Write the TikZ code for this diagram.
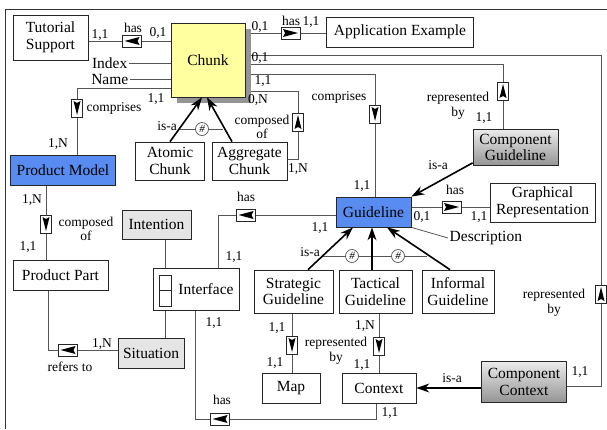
\documentclass[tikz,border=0pt]{standalone}
\usepackage{fontspec}
\setmainfont{Liberation Serif}
\usetikzlibrary{arrows.meta, positioning, calc, shadows, backgrounds}

\definecolor{chunkyellow}{RGB}{255,255,160}
\definecolor{modelblue}{RGB}{88,140,240}
\definecolor{linegray}{RGB}{85,85,85}

\tikzset{
  entbox/.style = {
    rectangle, draw=black!85, line width=0.7pt, fill=white,
    inner sep=0pt, align=center, font=\rmfamily\fontsize{15.5}{16.5}\selectfont
  },
  keybox/.style = {entbox, fill=modelblue},
  softbox/.style = {entbox, fill=black!10},
  compbox/.style = {entbox, top color=black!8, bottom color=black!42},
  chunkshadow/.style = {
    drop shadow={shadow xshift=6pt, shadow yshift=-6pt, fill=black!42, opacity=1}
  },
  portbox/.style = {
    rectangle, draw=black!85, line width=0.7pt, fill=white, inner sep=0pt,
    minimum width=12pt, minimum height=31pt,
    path picture={\draw[black!85, line width=0.7pt] (path picture bounding box.west) -- (path picture bounding box.east);}
  },
  lbl/.style = {font=\rmfamily\fontsize{13.5}{14.5}\selectfont, inner sep=0pt, align=center},
  namelbl/.style = {font=\rmfamily\fontsize{15.5}{16.5}\selectfont, inner sep=1.5pt},
  conn/.style = {draw=linegray, line width=0.8pt},
  isa/.style = {-{Stealth[length=13pt,width=9pt]}, line width=1.6pt, black},
  hashc/.style = {
    circle, draw=linegray, fill=white, line width=0.7pt, minimum size=13pt,
    inner sep=0pt, font=\rmfamily\itshape\fontsize{11}{11}\selectfont
  },
  % relationship markers: small box with a direction triangle
  relbox/.style = {rectangle, draw=black!85, fill=white, inner sep=0pt, line width=0.6pt},
  relL/.style = {relbox, minimum width=19pt, minimum height=12pt,
    path picture={\fill[black] ([xshift=2pt]path picture bounding box.west)
      -- ([xshift=-2pt,yshift=4pt]path picture bounding box.east)
      -- ([xshift=-4pt]path picture bounding box.east)
      -- ([xshift=-2pt,yshift=-4pt]path picture bounding box.east) -- cycle;}},
  relR/.style = {relbox, minimum width=19pt, minimum height=12pt,
    path picture={\fill[black] ([xshift=-2pt]path picture bounding box.east)
      -- ([xshift=2pt,yshift=4pt]path picture bounding box.west)
      -- ([xshift=4pt]path picture bounding box.west)
      -- ([xshift=2pt,yshift=-4pt]path picture bounding box.west) -- cycle;}},
  relU/.style = {relbox, minimum width=11pt, minimum height=18pt,
    path picture={\fill[black] ([yshift=-2pt]path picture bounding box.north)
      -- ([xshift=-3.5pt,yshift=2pt]path picture bounding box.south)
      -- ([yshift=4pt]path picture bounding box.south)
      -- ([xshift=3.5pt,yshift=2pt]path picture bounding box.south) -- cycle;}},
  relD/.style = {relbox, minimum width=11pt, minimum height=18pt,
    path picture={\fill[black] ([yshift=2pt]path picture bounding box.south)
      -- ([xshift=-3.5pt,yshift=-2pt]path picture bounding box.north)
      -- ([yshift=-4pt]path picture bounding box.north)
      -- ([xshift=3.5pt,yshift=-2pt]path picture bounding box.north) -- cycle;}}
}

\begin{document}
\begin{tikzpicture}[x=1pt, y=-1pt]
  \useasboundingbox (0,0) rectangle (607,429);
  \draw[line width=0.8pt, black!80] (5,429) -- (5,9) -- (607,9);

  % Entities
  \node[entbox, minimum width=75pt, minimum height=45pt] (tutorial) at (50.5,37.5) {Tutorial\\Support};
  \node[entbox, fill=chunkyellow, minimum width=74pt, minimum height=74pt, chunkshadow] (chunk) at (208,60) {Chunk};
  \node[entbox, minimum width=147pt, minimum height=30pt] (appex) at (400,32) {Application Example};
  \node[keybox, minimum width=105pt, minimum height=30pt] (prodmodel) at (63,170) {Product Model};
  \node[entbox, minimum width=69pt, minimum height=38pt] (atomic) at (170,161) {Atomic\\Chunk};
  \node[entbox, minimum width=75pt, minimum height=38pt] (aggregate) at (249.5,161) {Aggregate\\Chunk};
  \node[entbox, minimum width=95pt, minimum height=30pt] (prodpart) at (60.5,275) {Product Part};
  \node[softbox, minimum width=69pt, minimum height=29pt] (intention) at (156.5,224.5) {Intention};
  \node[entbox, minimum width=86pt, minimum height=42pt] (interface) at (196,289) {\hspace*{20pt}Interface};
  \node[portbox] (port) at (165,290.5) {};
  \node[softbox, minimum width=66pt, minimum height=30pt] (situation) at (151,353) {Situation};
  \node[keybox, minimum width=75pt, minimum height=30pt] (guideline) at (373.5,212) {Guideline};
  \node[compbox, minimum width=85pt, minimum height=36pt] (compguide) at (515.5,147.5) {Component\\Guideline};
  \node[entbox, minimum width=105pt, minimum height=39pt] (graphrep) at (542.5,202.5) {Graphical\\Representation};
  \node[entbox, minimum width=79pt, minimum height=43pt] (strategic) at (293.5,291.5) {Strategic\\Guideline};
  \node[entbox, minimum width=73pt, minimum height=43pt] (tactical) at (375.5,291.5) {Tactical\\Guideline};
  \node[entbox, minimum width=72pt, minimum height=43pt] (informal) at (458,291.5) {Informal\\Guideline};
  \node[entbox, minimum width=58pt, minimum height=30pt] (map) at (291,388) {Map};
  \node[entbox, minimum width=74pt, minimum height=30pt] (context) at (379,388) {Context};
  \node[compbox, minimum width=85pt, minimum height=41pt] (compcontext) at (524,382) {Component\\Context};

  % Attributes
  \node[namelbl, anchor=east] (index) at (129,63) {Index};
  \node[namelbl, anchor=east] (name) at (130,79) {Name};
  \node[namelbl, anchor=west] (descr) at (448,238) {Description};

  % Relationship markers
  \node[relL] (mTut) at (132,41) {};
  \node[relR] (mApp) at (290.5,33) {};
  \node[relD] (mCompA) at (77,108) {};
  \node[relU] (mCompOf) at (298,122) {};
  \node[relD] (mCompB) at (375,114) {};
  \node[relU] (mRepG) at (503,91) {};
  \node[relU] (mRepC) at (601,294) {};
  \node[relD] (mPart) at (46,224) {};
  \node[relL] (mRefers) at (68,350) {};
  \node[relL] (mHasG) at (246,215) {};
  \node[relL] (mHasC) at (220,419) {};
  \node[relD] (mMap) at (292,345) {};
  \node[relD] (mCtx) at (379,346) {};
  \node[relR] (mGraph) at (451.5,207) {};

  % Exclusive is-a
  \node[hashc] (xA) at (202,129) {\#};
  \node[hashc] (xB) at (352,256) {\#};
  \node[hashc] (xC) at (398,256) {\#};

  % Bends
  \coordinate (jA) at (77,88);
  \coordinate (jB) at (601,55);
  \coordinate (jB2) at (601,386);
  \coordinate (jC) at (503,64);
  \coordinate (jD) at (375,74);
  \coordinate (jE) at (298,91);
  \coordinate (jE2) at (298,159);
  \coordinate (jF) at (48,350);
  \coordinate (jG) at (218,215);
  \coordinate (jH) at (195,419);
  \coordinate (jH2) at (376,419);

  % Links
  \begin{pgfonlayer}{background}
    \draw[conn] (mTut -| tutorial.east) -- (mTut) -- (mTut -| chunk.west);
    \draw[conn] (mApp -| chunk.east) -- (mApp) -- (mApp -| appex.west);
    \draw[conn] (index.east) -- (index.east -| chunk.west);
    \draw[conn] (name.east) -- (name.east -| chunk.west);
    \draw[conn] (jA -| chunk.west) -- (jA) -- (mCompA) -- (mCompA |- prodmodel.north);
    \draw[conn] (jB -| chunk.east) -- (jB) -- (mRepC) -- (jB2) -- (jB2 -| compcontext.east);
    \draw[conn] (jC -| chunk.east) -- (jC) -- (mRepG) -- (mRepG |- compguide.north);
    \draw[conn] (jD -| chunk.east) -- (jD) -- (mCompB) -- (mCompB |- guideline.north);
    \draw[conn] (jE -| chunk.east) -- (jE) -- (mCompOf) -- (jE2) -- (jE2 -| aggregate.east);
    \draw[conn] (mPart |- prodmodel.south) -- (mPart) -- (mPart |- prodpart.north);
    \draw[conn] (jF |- prodpart.south) -- (jF) -- (mRefers) -- (mRefers -| situation.west);
    \draw[conn] (port.north) -- (port.north |- intention.south);
    \draw[conn] (port.south) -- (port.south |- situation.north);
    \draw[conn] (jG |- interface.north) -- (jG) -- (mHasG) -- (mHasG -| guideline.west);
    \draw[conn] (jH |- interface.south) -- (jH) -- (mHasC) -- (jH2) -- (jH2 |- context.south);
    \draw[conn] (mMap |- strategic.south) -- (mMap) -- (mMap |- map.north);
    \draw[conn] (mCtx |- tactical.south) -- (mCtx) -- (mCtx |- context.north);
    \draw[conn] (mGraph -| guideline.east) -- (mGraph) -- (mGraph -| graphrep.west);
    \draw[conn] (guideline.south east) -- (descr.west);
    \draw[conn] ([xshift=-22pt]xA.center) -- ([xshift=21pt]xA.center);
    \draw[conn] ([xshift=-29pt]xB.center) -- ([xshift=29pt]xC.center);
  \end{pgfonlayer}

  % Specialisations
  \draw[isa] (atomic.north) -- ([xshift=-6pt]chunk.south);
  \draw[isa] ([xshift=-17.5pt]aggregate.north) -- ([xshift=-1pt]chunk.south);
  \draw[isa] ([xshift=14.5pt]strategic.north) -- ([xshift=-20.5pt]guideline.south);
  \draw[isa] ([xshift=-3.5pt]tactical.north) -- ([xshift=-1.5pt]guideline.south);
  \draw[isa] ([xshift=-8pt]informal.north) -- ([xshift=13.5pt]guideline.south);
  \draw[isa] ([yshift=3pt]compguide.south west) -- (guideline.north east);
  \draw[isa] (context.east -| compcontext.west) -- (context.east);

  % Cardinalities and role names
  \node[lbl] (cTutA) at (100,35) {1,1};
  \node[lbl] (hTut) at (133,28) {has};
  \node[lbl] (cTutB) at (158,33) {0,1};
  \node[lbl] (cAppA) at (260,27) {0,1};
  \node[lbl] (hApp) at (291,21) {has};
  \node[lbl] (cAppB) at (311,22) {1,1};
  \node[lbl] (cCompA) at (156,99) {1,1};
  \node[lbl] (tCompA) at (114,108) {comprises};
  \node[lbl] (cCompA2) at (58,144) {1,N};
  \node[lbl] (cRepC2) at (260,58) {0,1};
  \node[lbl] (cCompB) at (263,81) {1,1};
  \node[lbl] (cAggA) at (258,100) {0,N};
  \node[lbl] (tAgg) at (262,127) {composed\\of};
  \node[lbl] (tIsaA) at (167,126) {is-a};
  \node[lbl] (cAggB) at (298,169) {1,N};
  \node[lbl] (tCompB) at (339,97) {comprises};
  \node[lbl] (tRepG) at (458,106) {represented\\by};
  \node[lbl] (cRepG) at (484,118) {1,1};
  \node[lbl] (cPartA) at (32,200) {1,N};
  \node[lbl] (tPart) at (86,229) {composed\\of};
  \node[lbl] (cPartB) at (28,247) {1,1};
  \node[lbl] (hIfc) at (246,197) {has};
  \node[lbl] (cIfcA) at (234,257) {1,1};
  \node[lbl] (cGuiA) at (362,186) {1,1};
  \node[lbl] (cGuiB) at (320,228) {1,1};
  \node[lbl] (tIsaB) at (310,252) {is-a};
  \node[lbl] (tIsaC) at (438,165) {is-a};
  \node[lbl] (hGraph) at (455,190) {has};
  \node[lbl] (cGraphA) at (422,217) {0,1};
  \node[lbl] (cGraphB) at (479,217) {1,1};
  \node[lbl] (cRefA) at (102,344) {1,N};
  \node[lbl] (tRef) at (70,367) {refers to};
  \node[lbl] (cIfcB) at (214,323) {1,1};
  \node[lbl] (cMapA) at (277,328) {1,1};
  \node[lbl] (cMapB) at (275,363) {1,1};
  \node[lbl] (tRepCtx) at (336,351) {represented\\by};
  \node[lbl] (cCtxA) at (365,326) {1,N};
  \node[lbl] (cCtxB) at (362,365) {1,1};
  \node[lbl] (hCtx) at (222,400) {has};
  \node[lbl] (cCtxC) at (390,413) {1,1};
  \node[lbl] (tIsaD) at (452,378) {is-a};
  \node[lbl] (cCC) at (580,372) {1,1};
  \node[lbl] (tRepC) at (554,303) {represented\\by};
\end{tikzpicture}
\end{document}
